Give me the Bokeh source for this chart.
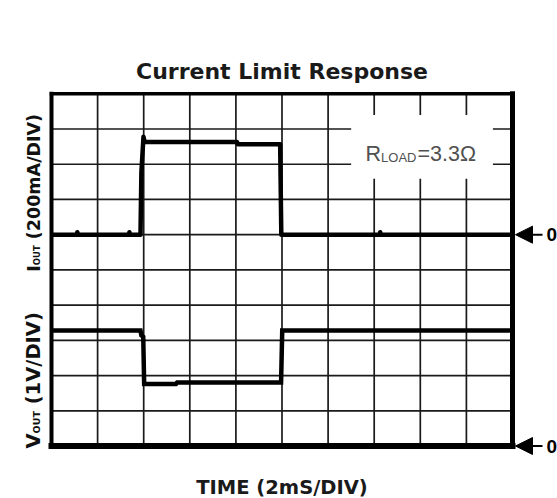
import math
from bokeh.plotting import figure
from bokeh.models import Range1d, Arrow, NormalHead
from bokeh.core.properties import value
from bokeh.embed import file_html
from bokeh.resources import INLINE

# ---------------- data ----------------
time_grid_ms = [0, 2, 4, 6, 8, 10, 12, 14, 16, 18, 20]      # 2 ms / div
vout_grid_V = [0, 1, 2, 3, 4, 5, 6, 7, 8, 9, 10]            # 1 V / div
ma_per_div = 200                                             # 200 mA / div
i_zero_div = 6                                               # I_OUT zero marker (divisions)

iout_time_ms = [0.0, 1.10, 1.12, 1.14, 3.36, 3.38, 3.40, 3.86, 3.90, 3.99, 4.04,
                8.05, 8.08, 9.92, 9.97, 14.24, 14.26, 14.28, 20.0]
iout_mA = [0, 0, 14, 0, 0, 14, 0, 0, 355, 556, 526,
           526, 514, 514, 0, 0, 14, 0, 0]

vout_time_ms = [0.0, 3.86, 3.90, 3.98, 4.02, 5.40, 5.45, 9.96, 10.01, 20.0]
vout_V = [3.28, 3.28, 3.14, 3.10, 1.76, 1.76, 1.80, 1.80, 3.28, 3.28]

title_text = "Current Limit Response"
xlabel_text = "TIME (2mS/DIV)"
i_label = ["I", "OUT", "(200mA/DIV)"]
v_label = ["V", "OUT", "(1V/DIV)"]
rload_label = ["R", "LOAD", "=3.3\u03a9"]
zero_text = "0"

# ---------------- layout ----------------
W, H = 557, 498
GL, GR, GT, GB = 51.0, 512.0, 93.3, 445.5        # grid box in figure pixels
t0, t1 = time_grid_ms[0], time_grid_ms[-1]
d0, d1 = vout_grid_V[0], vout_grid_V[-1]
ms_px = (t1 - t0) / (GR - GL)
dv_px = (d1 - d0) / (GB - GT)
x_rng = Range1d(t0 - GL * ms_px, t1 + (W - GR) * ms_px)
y0 = d0 - (H - GB) * dv_px
y1 = d1 + GT * dv_px
y_rng = Range1d(y0, y1)

p = figure(width=W, height=H, x_range=x_rng, y_range=y_rng,
           output_backend="svg", toolbar_location=None,
           x_axis_location=None, y_axis_location=None, min_border=0)
p.extra_y_ranges = {"iout": Range1d((y0 - i_zero_div) * ma_per_div,
                                    (y1 - i_zero_div) * ma_per_div)}
p.grid.visible = False
p.outline_line_color = None
p.background_fill_color = "white"
p.border_fill_color = "white"

# grid
p.segment(x0=time_grid_ms, y0=[d0] * len(time_grid_ms), x1=time_grid_ms, y1=[d1] * len(time_grid_ms),
          line_color="#1a1a1a", line_width=1.7)
p.segment(x0=[t0] * len(vout_grid_V), y0=vout_grid_V, x1=[t1] * len(vout_grid_V), y1=vout_grid_V,
          line_color="#1a1a1a", line_width=1.7)

# white box behind R_LOAD label
box_l, box_r, box_b, box_t = 13.0, 19.15, 7.59, 9.40
p.quad(left=[box_l], right=[box_r], bottom=[box_b], top=[box_t],
       fill_color="white", line_color=None)

# frame border
p.segment(x0=[t0, t0, t1, t1], y0=[d0, d1, d1, d0],
          x1=[t0, t1, t1, t0], y1=[d1, d1, d0, d0],
          line_color="black", line_width=[4, 3.5, 5, 6], line_cap="square")

# traces
p.line(iout_time_ms, iout_mA, y_range_name="iout", line_color="black",
       line_width=4.5, line_join="round")
p.line(vout_time_ms, vout_V, line_color="black", line_width=4.5, line_join="miter")

# zero markers at right
tip = t1 + 3.0 * ms_px
tail = t1 + 30.0 * ms_px
for rng in ("iout", "default"):
    p.add_layout(Arrow(end=NormalHead(size=17, fill_color="black", line_color="black", line_width=1),
                       x_start=tail, y_start=0, x_end=tip, y_end=0, y_range_name=rng,
                       line_color="black", line_width=2))
    p.text(x=[t1 + 34.0 * ms_px], y=[0], text=[zero_text], y_range_name=rng,
           text_font=value("Liberation Sans"), text_font_style="bold", text_font_size="19px",
           text_align="left", text_baseline="middle", text_color="black")

tc = (t0 + t1) / 2
# title
p.text(x=[tc], y=[d1], text=[title_text], text_font=value("DejaVu Sans"), text_font_style="bold",
       text_font_size="22px", text_align="center", text_baseline="alphabetic",
       text_color="#1a1a1a", y_offset=-22.3)
# x label
p.text(x=[tc], y=[d0], text=[xlabel_text], text_font=value("DejaVu Sans"), text_font_style="bold",
       text_font_size="19.5px", text_align="center", text_baseline="alphabetic",
       text_color="#1a1a1a", y_offset=41.5)

# I_OUT label (rotated)
rot = math.pi / 2
p.text(x=[t0] * 3, y=[0] * 3, text=i_label, y_range_name="iout",
       x_offset=[-18, -15, -18], y_offset=[37.0, 30.5, 4.5], angle=rot,
       text_font=value("DejaVu Sans"), text_font_style="bold",
       text_font_size=["17.5px", "8.5px", "17.5px"], text_align="left",
       text_baseline="alphabetic", text_color="#111111")
# V_OUT label (rotated)
p.text(x=[t0] * 3, y=[0] * 3, text=v_label,
       x_offset=[-18, -15, -18], y_offset=[2.5, -12.6, -41.7], angle=rot,
       text_font=value("DejaVu Sans"), text_font_style="bold",
       text_font_size=["19.5px", "9.5px", "19.5px"], text_align="left",
       text_baseline="alphabetic", text_color="#111111")

# R_LOAD label
p.text(x=[box_l] * 3, y=[8] * 3, text=rload_label,
       x_offset=[14.4, 29.9, 66.4], y_offset=[-10.7, -6.7, -10.7],
       text_font=value("Liberation Sans"), text_font_size=["21.5px", "13px", "21.5px"],
       text_align="left", text_baseline="alphabetic", text_color="#505050")

open("out.html", "w").write(file_html(p, INLINE))
